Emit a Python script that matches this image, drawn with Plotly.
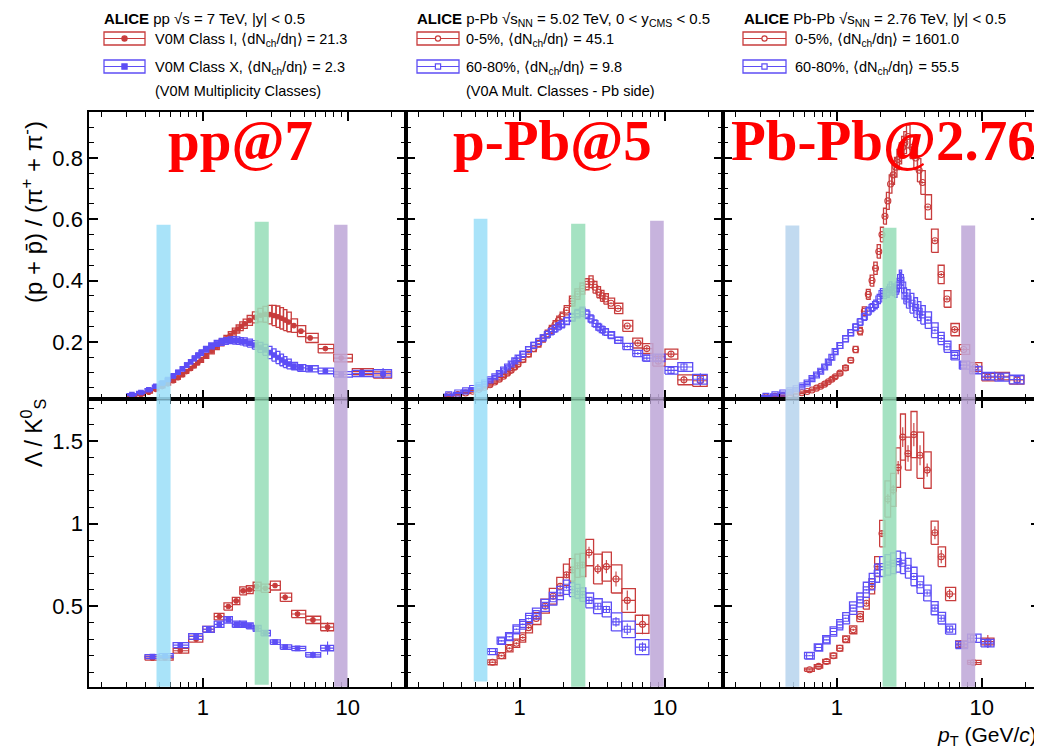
import numpy as np
import plotly.graph_objects as go
from plotly.subplots import make_subplots

RED = "#c83c3c"
BLUE = "#5d4ef5"

# ---------------- data: (p + pbar)/(pi+ + pi-) ----------------
pp_ppi_pt = [0.325, 0.375, 0.425, 0.475, 0.525, 0.575, 0.625, 0.675, 0.725, 0.775, 0.825, 0.875, 0.925, 0.975,
             1.05, 1.15, 1.25, 1.35, 1.45, 1.55, 1.65, 1.75, 1.85, 1.95,
             2.1, 2.3, 2.5, 2.7, 2.9, 3.1, 3.3, 3.5, 3.7, 3.9,
             4.25, 4.75, 5.5, 7.0, 9.0, 12.5, 17.5]
pp_ppi_hi = [0.022, 0.028, 0.036, 0.045, 0.054, 0.063, 0.073, 0.083, 0.093, 0.103, 0.113, 0.122, 0.132, 0.141,
             0.154, 0.170, 0.185, 0.198, 0.210, 0.221, 0.232, 0.242, 0.251, 0.259,
             0.270, 0.280, 0.287, 0.290, 0.289, 0.286, 0.282, 0.277, 0.271, 0.265,
             0.253, 0.235, 0.213, 0.178, 0.147, 0.103, 0.092]
pp_ppi_hi_sys = [0.003, 0.003, 0.003, 0.004, 0.004, 0.004, 0.005, 0.005, 0.006, 0.006, 0.006, 0.007, 0.007, 0.008,
                 0.008, 0.009, 0.010, 0.011, 0.011, 0.012, 0.013, 0.013, 0.014, 0.015,
                 0.016, 0.018, 0.022, 0.026, 0.030, 0.033, 0.035, 0.035, 0.034, 0.032,
                 0.022, 0.018, 0.015, 0.014, 0.012, 0.010, 0.010]
pp_ppi_hi_stat = [0.001, 0.001, 0.001, 0.001, 0.001, 0.001, 0.001, 0.001, 0.001, 0.001, 0.001, 0.001, 0.001, 0.001,
                  0.001, 0.001, 0.001, 0.001, 0.001, 0.001, 0.001, 0.001, 0.001, 0.001,
                  0.002, 0.002, 0.002, 0.002, 0.002, 0.002, 0.002, 0.002, 0.002, 0.002,
                  0.003, 0.003, 0.004, 0.004, 0.006, 0.008, 0.012]
pp_ppi_lo = [0.028, 0.035, 0.044, 0.055, 0.066, 0.077, 0.089, 0.101, 0.112, 0.124, 0.135, 0.146, 0.156, 0.165,
             0.176, 0.187, 0.195, 0.200, 0.203, 0.205, 0.205, 0.204, 0.202, 0.200,
             0.196, 0.190, 0.182, 0.174, 0.165, 0.157, 0.149, 0.141, 0.134, 0.128,
             0.121, 0.115, 0.112, 0.105, 0.094, 0.097, 0.097]
pp_ppi_lo_sys = [0.003, 0.003, 0.003, 0.004, 0.004, 0.005, 0.005, 0.006, 0.006, 0.007, 0.007, 0.008, 0.008, 0.009,
                 0.009, 0.010, 0.010, 0.011, 0.011, 0.011, 0.012, 0.012, 0.012, 0.013,
                 0.013, 0.014, 0.016, 0.018, 0.020, 0.020, 0.020, 0.019, 0.018, 0.016,
                 0.012, 0.011, 0.010, 0.009, 0.009, 0.010, 0.012]
pp_ppi_lo_stat = [0.001, 0.001, 0.001, 0.001, 0.001, 0.001, 0.001, 0.001, 0.001, 0.001, 0.001, 0.001, 0.001, 0.001,
                  0.001, 0.001, 0.001, 0.001, 0.001, 0.001, 0.001, 0.001, 0.001, 0.001,
                  0.002, 0.002, 0.002, 0.002, 0.002, 0.002, 0.002, 0.002, 0.002, 0.002,
                  0.003, 0.003, 0.004, 0.004, 0.006, 0.010, 0.018]

ppb_ppi_pt = [0.325, 0.375, 0.425, 0.475, 0.525, 0.575, 0.625, 0.675, 0.725, 0.775, 0.825, 0.875, 0.925, 0.975,
              1.05, 1.15, 1.25, 1.35, 1.45, 1.55, 1.65, 1.75, 1.85, 1.95,
              2.1, 2.3, 2.5, 2.7, 2.9, 3.1, 3.3, 3.5, 3.7, 3.9,
              4.25, 4.75, 5.5, 6.5, 7.5, 9.0, 11.0, 13.5, 17.5]
ppb_ppi_hi = [0.024, 0.028, 0.033, 0.039, 0.045, 0.052, 0.060, 0.069, 0.078, 0.088, 0.098, 0.107, 0.117, 0.127,
              0.142, 0.160, 0.178, 0.194, 0.210, 0.226, 0.241, 0.256, 0.270, 0.283,
              0.303, 0.333, 0.356, 0.374, 0.388, 0.396, 0.378, 0.362, 0.350, 0.340,
              0.326, 0.309, 0.252, 0.196, 0.178, 0.137, 0.160, 0.076, 0.073]
ppb_ppi_hi_sys = [0.002, 0.002, 0.002, 0.003, 0.003, 0.003, 0.004, 0.004, 0.005, 0.005, 0.006, 0.006, 0.007, 0.007,
                  0.008, 0.009, 0.010, 0.011, 0.011, 0.012, 0.013, 0.013, 0.014, 0.014,
                  0.015, 0.016, 0.017, 0.018, 0.018, 0.019, 0.019, 0.018, 0.018, 0.017,
                  0.017, 0.017, 0.018, 0.016, 0.016, 0.016, 0.016, 0.016, 0.018]
ppb_ppi_hi_stat = [0.001, 0.001, 0.001, 0.001, 0.001, 0.001, 0.001, 0.001, 0.001, 0.001, 0.001, 0.001, 0.001, 0.001,
                   0.001, 0.001, 0.001, 0.001, 0.001, 0.001, 0.001, 0.001, 0.001, 0.001,
                   0.002, 0.002, 0.002, 0.002, 0.002, 0.002, 0.002, 0.002, 0.002, 0.002,
                   0.003, 0.003, 0.004, 0.005, 0.006, 0.008, 0.010, 0.012, 0.020]
ppb_ppi_lo = [0.027, 0.033, 0.040, 0.048, 0.057, 0.066, 0.076, 0.086, 0.097, 0.108, 0.118, 0.128, 0.138, 0.147,
              0.160, 0.175, 0.189, 0.201, 0.213, 0.224, 0.234, 0.243, 0.251, 0.258,
              0.268, 0.280, 0.292, 0.298, 0.290, 0.275, 0.260, 0.248, 0.240, 0.232,
              0.222, 0.205, 0.185, 0.162, 0.147, 0.148, 0.107, 0.118, 0.078]
ppb_ppi_lo_sys = [0.002, 0.002, 0.003, 0.003, 0.003, 0.004, 0.004, 0.005, 0.005, 0.006, 0.006, 0.007, 0.007, 0.008,
                  0.008, 0.009, 0.009, 0.010, 0.010, 0.011, 0.011, 0.011, 0.012, 0.012,
                  0.012, 0.013, 0.014, 0.015, 0.014, 0.013, 0.012, 0.012, 0.011, 0.011,
                  0.011, 0.010, 0.010, 0.010, 0.010, 0.012, 0.012, 0.014, 0.016]
ppb_ppi_lo_stat = [0.001, 0.001, 0.001, 0.001, 0.001, 0.001, 0.001, 0.001, 0.001, 0.001, 0.001, 0.001, 0.001, 0.001,
                   0.001, 0.001, 0.001, 0.001, 0.001, 0.001, 0.001, 0.001, 0.001, 0.001,
                   0.002, 0.002, 0.002, 0.002, 0.002, 0.002, 0.002, 0.002, 0.002, 0.002,
                   0.003, 0.003, 0.004, 0.005, 0.006, 0.008, 0.010, 0.012, 0.020]

pbpb_ppi_pt = [0.325, 0.375, 0.425, 0.475, 0.525, 0.575, 0.625, 0.675, 0.725, 0.775, 0.825, 0.875, 0.925, 0.975,
               1.05, 1.15, 1.25, 1.35, 1.45, 1.55, 1.65, 1.75, 1.85, 1.95,
               2.05, 2.15, 2.25, 2.35, 2.45, 2.55, 2.65, 2.75, 2.85, 2.95,
               3.1, 3.3, 3.5, 3.7, 3.9,
               4.25, 4.75, 5.25, 5.75, 6.5, 7.5, 9.0, 11.0, 13.5, 17.5]
pbpb_ppi_hi = [0.020, 0.022, 0.024, 0.027, 0.030, 0.034, 0.038, 0.043, 0.049, 0.055, 0.062, 0.070, 0.078, 0.086,
               0.098, 0.115, 0.140, 0.175, 0.235, 0.300, 0.355, 0.400, 0.440, 0.495,
               0.550, 0.610, 0.660, 0.715, 0.745, 0.770, 0.795, 0.815, 0.835, 0.850,
               0.870, 0.835, 0.800, 0.760, 0.720,
               0.640, 0.530, 0.420, 0.340, 0.240, 0.175, 0.118, 0.085, 0.088, 0.076]
pbpb_ppi_hi_sys = [0.002, 0.002, 0.002, 0.002, 0.002, 0.003, 0.003, 0.003, 0.003, 0.004, 0.004, 0.004, 0.005, 0.005,
                   0.006, 0.007, 0.008, 0.010, 0.012, 0.014, 0.016, 0.018, 0.020, 0.022,
                   0.024, 0.026, 0.028, 0.030, 0.031, 0.032, 0.033, 0.034, 0.035, 0.036,
                   0.037, 0.037, 0.038, 0.038, 0.039,
                   0.040, 0.038, 0.030, 0.027, 0.020, 0.016, 0.014, 0.012, 0.012, 0.014]
pbpb_ppi_hi_stat = [0.001, 0.001, 0.001, 0.001, 0.001, 0.001, 0.001, 0.001, 0.001, 0.001, 0.001, 0.001, 0.001, 0.001,
                    0.001, 0.001, 0.001, 0.001, 0.001, 0.001, 0.001, 0.001, 0.001, 0.001,
                    0.001, 0.001, 0.001, 0.001, 0.001, 0.001, 0.001, 0.001, 0.001, 0.001,
                    0.003, 0.003, 0.003, 0.003, 0.003,
                    0.004, 0.005, 0.005, 0.005, 0.005, 0.005, 0.005, 0.006, 0.010, 0.015]
pbpb_ppi_lo = [0.022, 0.027, 0.033, 0.040, 0.047, 0.056, 0.066, 0.080, 0.092, 0.104, 0.118, 0.134, 0.150, 0.168,
               0.188, 0.210, 0.230, 0.248, 0.265, 0.282, 0.300, 0.312, 0.322, 0.340,
               0.358, 0.357, 0.362, 0.378, 0.370, 0.365, 0.385, 0.410, 0.385, 0.350,
               0.340, 0.326, 0.312, 0.300, 0.288,
               0.271, 0.238, 0.211, 0.184, 0.156, 0.124, 0.108, 0.088, 0.085, 0.077]
pbpb_ppi_lo_sys = [0.003, 0.003, 0.003, 0.004, 0.004, 0.004, 0.005, 0.005, 0.006, 0.006, 0.007, 0.007, 0.008, 0.008,
                   0.009, 0.010, 0.010, 0.011, 0.011, 0.012, 0.013, 0.013, 0.014, 0.015,
                   0.016, 0.016, 0.017, 0.018, 0.019, 0.020, 0.022, 0.024, 0.025, 0.026,
                   0.030, 0.032, 0.032, 0.031, 0.030,
                   0.027, 0.024, 0.020, 0.018, 0.015, 0.013, 0.012, 0.012, 0.013, 0.014]
pbpb_ppi_lo_stat = [0.001, 0.001, 0.001, 0.001, 0.001, 0.001, 0.001, 0.001, 0.001, 0.001, 0.001, 0.001, 0.001, 0.001,
                    0.001, 0.001, 0.001, 0.001, 0.001, 0.001, 0.001, 0.001, 0.001, 0.001,
                    0.002, 0.002, 0.002, 0.002, 0.002, 0.002, 0.002, 0.020, 0.002, 0.002,
                    0.003, 0.003, 0.003, 0.003, 0.003,
                    0.004, 0.004, 0.004, 0.004, 0.004, 0.004, 0.005, 0.006, 0.008, 0.012]

# ---------------- data: Lambda / K0S ----------------
pp_lk_pt = [0.45, 0.55, 0.7, 0.9, 1.1, 1.3, 1.5, 1.7, 1.9, 2.1, 2.35, 2.7, 3.15, 3.7, 4.5, 5.75, 7.25]
pp_lk_hi = [0.185, 0.185, 0.230, 0.300, 0.360, 0.437, 0.498, 0.532, 0.593, 0.600, 0.620, 0.609, 0.625, 0.554, 0.453, 0.417, 0.373]
pp_lk_hi_sys = [0.012, 0.012, 0.015, 0.018, 0.018, 0.020, 0.022, 0.022, 0.024, 0.024, 0.025, 0.025, 0.027, 0.025, 0.022, 0.022, 0.022]
pp_lk_hi_stat = [0.003, 0.003, 0.004, 0.005, 0.006, 0.007, 0.008, 0.009, 0.010, 0.010, 0.011, 0.012, 0.015, 0.018, 0.020, 0.022, 0.030]
pp_lk_lo = [0.195, 0.200, 0.264, 0.316, 0.360, 0.390, 0.417, 0.390, 0.390, 0.380, 0.365, 0.337, 0.282, 0.252, 0.244, 0.205, 0.246]
pp_lk_lo_sys = [0.012, 0.012, 0.015, 0.017, 0.018, 0.019, 0.020, 0.019, 0.019, 0.018, 0.018, 0.017, 0.014, 0.013, 0.013, 0.013, 0.016]
pp_lk_lo_stat = [0.003, 0.003, 0.004, 0.005, 0.006, 0.006, 0.007, 0.007, 0.008, 0.008, 0.009, 0.010, 0.012, 0.012, 0.014, 0.020, 0.040]

ppb_lk_pt = [0.65, 0.75, 0.85, 0.95, 1.05, 1.15, 1.3, 1.5, 1.7, 1.9, 2.1, 2.3, 2.5, 2.7, 3.0, 3.45, 3.95, 4.6, 5.5, 7.0]
ppb_lk_hi = [0.160, 0.200, 0.245, 0.275, 0.310, 0.370, 0.425, 0.500, 0.560, 0.620, 0.690, 0.720, 0.745, 0.750, 0.825, 0.725, 0.740, 0.665, 0.535, 0.390]
ppb_lk_hi_sys = [0.015, 0.018, 0.022, 0.025, 0.028, 0.032, 0.036, 0.042, 0.048, 0.055, 0.065, 0.068, 0.070, 0.070, 0.080, 0.090, 0.088, 0.085, 0.072, 0.055]
ppb_lk_hi_stat = [0.004, 0.005, 0.006, 0.007, 0.008, 0.009, 0.010, 0.011, 0.012, 0.013, 0.014, 0.015, 0.016, 0.018, 0.035, 0.030, 0.040, 0.045, 0.060, 0.060]
ppb_lk_lo = [0.225, 0.290, 0.315, 0.360, 0.390, 0.425, 0.455, 0.505, 0.545, 0.580, 0.615, 0.600, 0.590, 0.570, 0.535, 0.500, 0.480, 0.405, 0.360, 0.252]
ppb_lk_lo_sys = [0.018, 0.022, 0.024, 0.027, 0.029, 0.031, 0.033, 0.036, 0.038, 0.040, 0.043, 0.042, 0.042, 0.041, 0.045, 0.045, 0.045, 0.055, 0.050, 0.045]
ppb_lk_lo_stat = [0.003, 0.004, 0.004, 0.005, 0.005, 0.006, 0.006, 0.007, 0.008, 0.009, 0.010, 0.010, 0.011, 0.012, 0.015, 0.018, 0.022, 0.030, 0.035, 0.030]

pbpb_lk_pt = [0.65, 0.75, 0.85, 0.95, 1.05, 1.15, 1.3, 1.45, 1.6, 1.75, 1.9, 2.05, 2.25, 2.45, 2.65, 2.85, 3.1,
              3.4, 3.75, 4.2, 4.75, 5.25, 6.0, 7.2, 8.75, 11.0]
pbpb_lk_hi = [0.115, 0.135, 0.165, 0.200, 0.245, 0.300, 0.357, 0.437, 0.518, 0.620, 0.740, 0.940, 1.150, 1.205, 1.340,
              1.525, 1.425, 1.540, 1.415, 1.325, 0.945, 0.800, 0.574, 0.270, 0.159, 0.286]
pbpb_lk_hi_sys = [0.010, 0.011, 0.013, 0.015, 0.017, 0.020, 0.024, 0.030, 0.036, 0.045, 0.060, 0.080, 0.110, 0.100,
                  0.120, 0.140, 0.100, 0.140, 0.140, 0.110, 0.070, 0.060, 0.040, 0.020, 0.012, 0.020]
pbpb_lk_hi_stat = [0.003, 0.003, 0.004, 0.004, 0.005, 0.006, 0.007, 0.008, 0.010, 0.012, 0.014, 0.020, 0.030, 0.030,
                   0.040, 0.060, 0.050, 0.070, 0.060, 0.040, 0.040, 0.040, 0.030, 0.020, 0.015, 0.040]
pbpb_lk_lo = [0.200, 0.250, 0.296, 0.347, 0.387, 0.427, 0.488, 0.538, 0.599, 0.649, 0.700, 0.740, 0.750, 0.760, 0.770,
              0.760, 0.730, 0.680, 0.630, 0.580, 0.488, 0.427, 0.361, 0.265, 0.306, 0.276]
pbpb_lk_lo_sys = [0.020, 0.022, 0.025, 0.028, 0.031, 0.034, 0.038, 0.042, 0.046, 0.050, 0.055, 0.060, 0.062, 0.063,
                  0.064, 0.063, 0.060, 0.056, 0.052, 0.048, 0.040, 0.035, 0.030, 0.022, 0.025, 0.023]
pbpb_lk_lo_stat = [0.002, 0.002, 0.002, 0.003, 0.003, 0.003, 0.003, 0.004, 0.004, 0.004, 0.005, 0.005, 0.005, 0.006,
                   0.006, 0.007, 0.008, 0.008, 0.009, 0.010, 0.012, 0.014, 0.015, 0.015, 0.020, 0.030]

# ---------------- highlighted pT windows (per system) ----------------
band_lo = {"pp": [0.48, 2.28, 8.05], "ppb": [0.483, 2.26, 7.9], "pbpb": [0.443, 2.07, 7.21]}
band_hi = {"pp": [0.60, 2.85, 9.95], "ppb": [0.60, 2.83, 9.8], "pbpb": [0.552, 2.58, 9.0]}
band_top = {"pp": [0.582, 0.592, 0.582], "ppb": [0.602, 0.585, 0.595], "pbpb": [0.58, 0.572, 0.58]}
band_bottom = {"pp": [0.0, 0.024, 0.0], "ppb": [0.044, 0.0, 0.0], "pbpb": [0.0, 0.0, 0.0]}
band_colors = {"pp": ["#9ddff8", "#98deb9", "#bfa8d8"],
               "ppb": ["#9ddff8", "#98deb9", "#bfa8d8"],
               "pbpb": ["#b8d5ee", "#98deb9", "#bfa8d8"]}

systems = ["pp", "ppb", "pbpb"]
big_labels = ["pp@7", "p-Pb@5", "Pb-Pb@2.76"]

headers = ["<b>ALICE</b> pp √s = 7 TeV, |y| < 0.5",
           "<b>ALICE</b> p-Pb √s<sub>NN</sub> = 5.02 TeV, 0 < y<sub>CMS</sub> < 0.5",
           "<b>ALICE</b> Pb-Pb √s<sub>NN</sub> = 2.76 TeV, |y| < 0.5"]
legend_hi = ["V0M Class I, ⟨dN<sub>ch</sub>/dη⟩ = 21.3",
             "0-5%, ⟨dN<sub>ch</sub>/dη⟩ = 45.1",
             "0-5%, ⟨dN<sub>ch</sub>/dη⟩ = 1601.0"]
legend_lo = ["V0M Class X, ⟨dN<sub>ch</sub>/dη⟩ = 2.3",
             "60-80%, ⟨dN<sub>ch</sub>/dη⟩ = 9.8",
             "60-80%, ⟨dN<sub>ch</sub>/dη⟩ = 55.5"]
legend_note = ["(V0M Multiplicity Classes)", "(V0A Mult. Classes - Pb side)", ""]

# page body has an 8 px margin: the figure is drawn at (8, 8)
OFF = 8
W, H = 1042 - OFF, 756 - OFF
col_px = [(89.3, 406.0), (406.0, 723.3), (723.3, 1040.0)]
row_px = [(111.7, 399.3), (399.3, 686.7)]


def px(xp):
    return (xp - OFF) / W


def py(yp):
    return 1 - (yp - OFF) / H


fig = make_subplots(rows=2, cols=3, horizontal_spacing=0, vertical_spacing=0)


def add_series(row, col, pt, y, sys, stat, color, symbol, msize):
    pt = np.asarray(pt, float)
    y = np.asarray(y, float)
    sys = np.asarray(sys, float)
    stat = np.asarray(stat, float)
    mid = (pt[1:] + pt[:-1]) / 2
    lo = np.concatenate([[pt[0] - (pt[1] - pt[0]) / 2], mid])
    hi = np.concatenate([mid, [pt[-1] + (pt[-1] - pt[-2]) / 2]])
    bx, by = [], []
    for xl, xh, yc, s in zip(lo, hi, y, sys):
        bx += [xl, xh, xh, xl, xl, None]
        by += [yc - s, yc - s, yc + s, yc + s, yc - s, None]
    fig.add_trace(go.Scatter(x=bx, y=by, mode="lines", line=dict(color=color, width=1.3),
                             hoverinfo="skip", showlegend=False), row=row, col=col)
    fig.add_trace(go.Scatter(
        x=pt, y=y, mode="markers",
        marker=dict(symbol=symbol, size=msize, color=color, line=dict(color=color, width=1.1)),
        error_x=dict(type="data", symmetric=False, array=hi - pt, arrayminus=pt - lo,
                     color=color, thickness=1.1, width=0),
        error_y=dict(type="data", array=stat, color=color, thickness=1.1, width=0),
        showlegend=False), row=row, col=col)


series_top = [
    (pp_ppi_pt, pp_ppi_hi, pp_ppi_hi_sys, pp_ppi_hi_stat, pp_ppi_lo, pp_ppi_lo_sys, pp_ppi_lo_stat),
    (ppb_ppi_pt, ppb_ppi_hi, ppb_ppi_hi_sys, ppb_ppi_hi_stat, ppb_ppi_lo, ppb_ppi_lo_sys, ppb_ppi_lo_stat),
    (pbpb_ppi_pt, pbpb_ppi_hi, pbpb_ppi_hi_sys, pbpb_ppi_hi_stat, pbpb_ppi_lo, pbpb_ppi_lo_sys, pbpb_ppi_lo_stat),
]
series_bot = [
    (pp_lk_pt, pp_lk_hi, pp_lk_hi_sys, pp_lk_hi_stat, pp_lk_lo, pp_lk_lo_sys, pp_lk_lo_stat),
    (ppb_lk_pt, ppb_lk_hi, ppb_lk_hi_sys, ppb_lk_hi_stat, ppb_lk_lo, ppb_lk_lo_sys, ppb_lk_lo_stat),
    (pbpb_lk_pt, pbpb_lk_hi, pbpb_lk_hi_sys, pbpb_lk_hi_stat, pbpb_lk_lo, pbpb_lk_lo_sys, pbpb_lk_lo_stat),
]
sym_hi = ["circle", "circle-open", "circle-open"]
sym_lo = ["square", "square-open", "square-open"]
msz = [4.5, 6, 6]

for c in range(3):
    for r, ser in ((1, series_top[c]), (2, series_bot[c])):
        pt, yh, sh, th, yl, sl, tl = ser
        add_series(r, c + 1, pt, yh, sh, th, RED, sym_hi[c], msz[c])
        add_series(r, c + 1, pt, yl, sl, tl, BLUE, sym_lo[c], msz[c])

YTOP = [0.0126, 0.951]
YBOT = [0.012, 1.754]
XR = [-0.782, 1.401]

tickfont = dict(family="Liberation Sans, Arial, sans-serif", size=22, color="black")
for c in range(3):
    for r in range(2):
        idx = r * 3 + c + 1
        xa = "xaxis" if idx == 1 else f"xaxis{idx}"
        ya = "yaxis" if idx == 1 else f"yaxis{idx}"
        fig.layout[xa].update(
            type="log", range=XR, domain=[px(col_px[c][0]), px(col_px[c][1])],
            showline=True, linecolor="black", linewidth=2, mirror="allticks",
            ticks="inside", ticklen=9, tickwidth=1.5, tickcolor="black", dtick=1,
            minor=dict(ticks="inside", ticklen=5, tickwidth=1.2, tickcolor="black", dtick="D1", showgrid=False),
            showgrid=False, zeroline=False, showticklabels=(r == 1), tickfont=tickfont,
            ticklabelstandoff=0)
        fig.layout[ya].update(
            range=YTOP if r == 0 else YBOT,
            domain=[py(row_px[r][1]), py(row_px[r][0])],
            showline=True, linecolor="black", linewidth=2, mirror="allticks",
            ticks="inside", ticklen=9, tickwidth=1.5, tickcolor="black",
            dtick=0.2 if r == 0 else 0.5, tick0=0,
            minor=dict(ticks="inside", ticklen=5, tickwidth=1.2, tickcolor="black",
                       dtick=0.05 if r == 0 else 0.1, showgrid=False),
            showgrid=False, zeroline=False, showticklabels=(c == 0), tickfont=tickfont,
            ticklabelstandoff=0)

# highlight bands (drawn over the data, semi-opaque)
shapes = []
for c, s in enumerate(systems):
    xt = "x" if c == 0 else f"x{c + 1}"
    yt = "y" if c == 0 else f"y{c + 1}"
    xb = f"x{c + 4}"
    yb = f"y{c + 4}"
    for lo, hi, top, bot, col in zip(band_lo[s], band_hi[s], band_top[s], band_bottom[s], band_colors[s]):
        shapes.append(dict(type="rect", xref=xt, yref=yt, x0=lo, x1=hi, y0=YTOP[0] - 0.01, y1=top,
                           fillcolor=col, opacity=0.88, line=dict(width=0), layer="above"))
        shapes.append(dict(type="rect", xref=xb, yref=yb, x0=lo, x1=hi, y0=max(bot, YBOT[0] - 0.02),
                           y1=YBOT[1] + 0.02, fillcolor=col, opacity=0.88, line=dict(width=0), layer="above"))

# legend glyphs and texts
annotations = []
hdr_x = [101.7, 415.0, 741.7]
glyph_x = [(104, 145), (417, 459), (743, 786)]
text_x = [152.7, 463.5, 793.3]
rows_y = [(32, 45), (60, 73)]
txtfont = dict(family="Liberation Sans, Arial, sans-serif", size=14.5, color="black")
hdrfont = dict(family="Liberation Sans, Arial, sans-serif", size=15, color="black")
for c in range(3):
    annotations.append(dict(x=px(hdr_x[c]), y=py(8.5), xref="paper", yref="paper", text=headers[c],
                            showarrow=False, xanchor="left", yanchor="top", font=hdrfont))
    for k, (col, txt, mk) in enumerate(((RED, legend_hi[c], "circle"), (BLUE, legend_lo[c], "square"))):
        y0, y1 = rows_y[k]
        x0, x1 = glyph_x[c]
        shapes.append(dict(type="rect", xref="paper", yref="paper", x0=px(x0), x1=px(x1), y0=py(y1), y1=py(y0),
                           line=dict(color=col, width=1.3), fillcolor="rgba(0,0,0,0)"))
        ym = (y0 + y1) / 2
        shapes.append(dict(type="line", xref="paper", yref="paper", x0=px(x0), x1=px(x1), y0=py(ym), y1=py(ym),
                           line=dict(color=col, width=1.2)))
        xm = (x0 + x1) / 2
        filled = (c == 0)
        shapes.append(dict(type=("circle" if mk == "circle" else "rect"), xref="paper", yref="paper",
                           xsizemode="pixel", ysizemode="pixel", xanchor=px(xm), yanchor=py(ym),
                           x0=-2.6, x1=2.6, y0=-2.6, y1=2.6,
                           line=dict(color=col, width=1.2),
                           fillcolor=col if filled else "white"))
        annotations.append(dict(x=px(text_x[c]), y=py(ym + 1), xref="paper", yref="paper", text=txt,
                                showarrow=False, xanchor="left", yanchor="middle", font=txtfont))
    if legend_note[c]:
        annotations.append(dict(x=px(text_x[c]), y=py(91.5), xref="paper", yref="paper", text=legend_note[c],
                                showarrow=False, xanchor="left", yanchor="middle", font=txtfont))

# big red system labels
big_x = [240.5, 552.5, 883.5]
for c in range(3):
    annotations.append(dict(x=px(big_x[c]), y=py(141), xref="paper", yref="paper",
                            text=f"<b>{big_labels[c]}</b>", showarrow=False, xanchor="center", yanchor="middle",
                            font=dict(family="Liberation Serif, Times New Roman, serif", size=57, color="#ff0000")))

# axis titles
annotations.append(dict(x=px(32), y=py(212), xref="paper", yref="paper",
                        text="(p + p̄) / (π<sup>+</sup> + π<sup>-</sup>)", textangle=-90,
                        showarrow=False, xanchor="center", yanchor="middle",
                        font=dict(family="Liberation Sans, Arial, sans-serif", size=24, color="black")))
annotations.append(dict(x=px(33), y=py(433), xref="paper", yref="paper",
                        text="Λ / K<sup>0</sup><sub>S</sub>", textangle=-90,
                        showarrow=False, xanchor="center", yanchor="middle",
                        font=dict(family="Liberation Sans, Arial, sans-serif", size=23, color="black")))
annotations.append(dict(x=px(1039), y=py(736), xref="paper", yref="paper",
                        text="<i>p</i><sub>T</sub> (GeV/<i>c</i>)",
                        showarrow=False, xanchor="right", yanchor="middle",
                        font=dict(family="Liberation Sans, Arial, sans-serif", size=21, color="black")))

fig.update_layout(width=W, height=H, margin=dict(l=0, r=0, t=0, b=0),
                  paper_bgcolor="white", plot_bgcolor="white",
                  shapes=shapes, annotations=annotations, showlegend=False)

fig.write_html("out.html")
